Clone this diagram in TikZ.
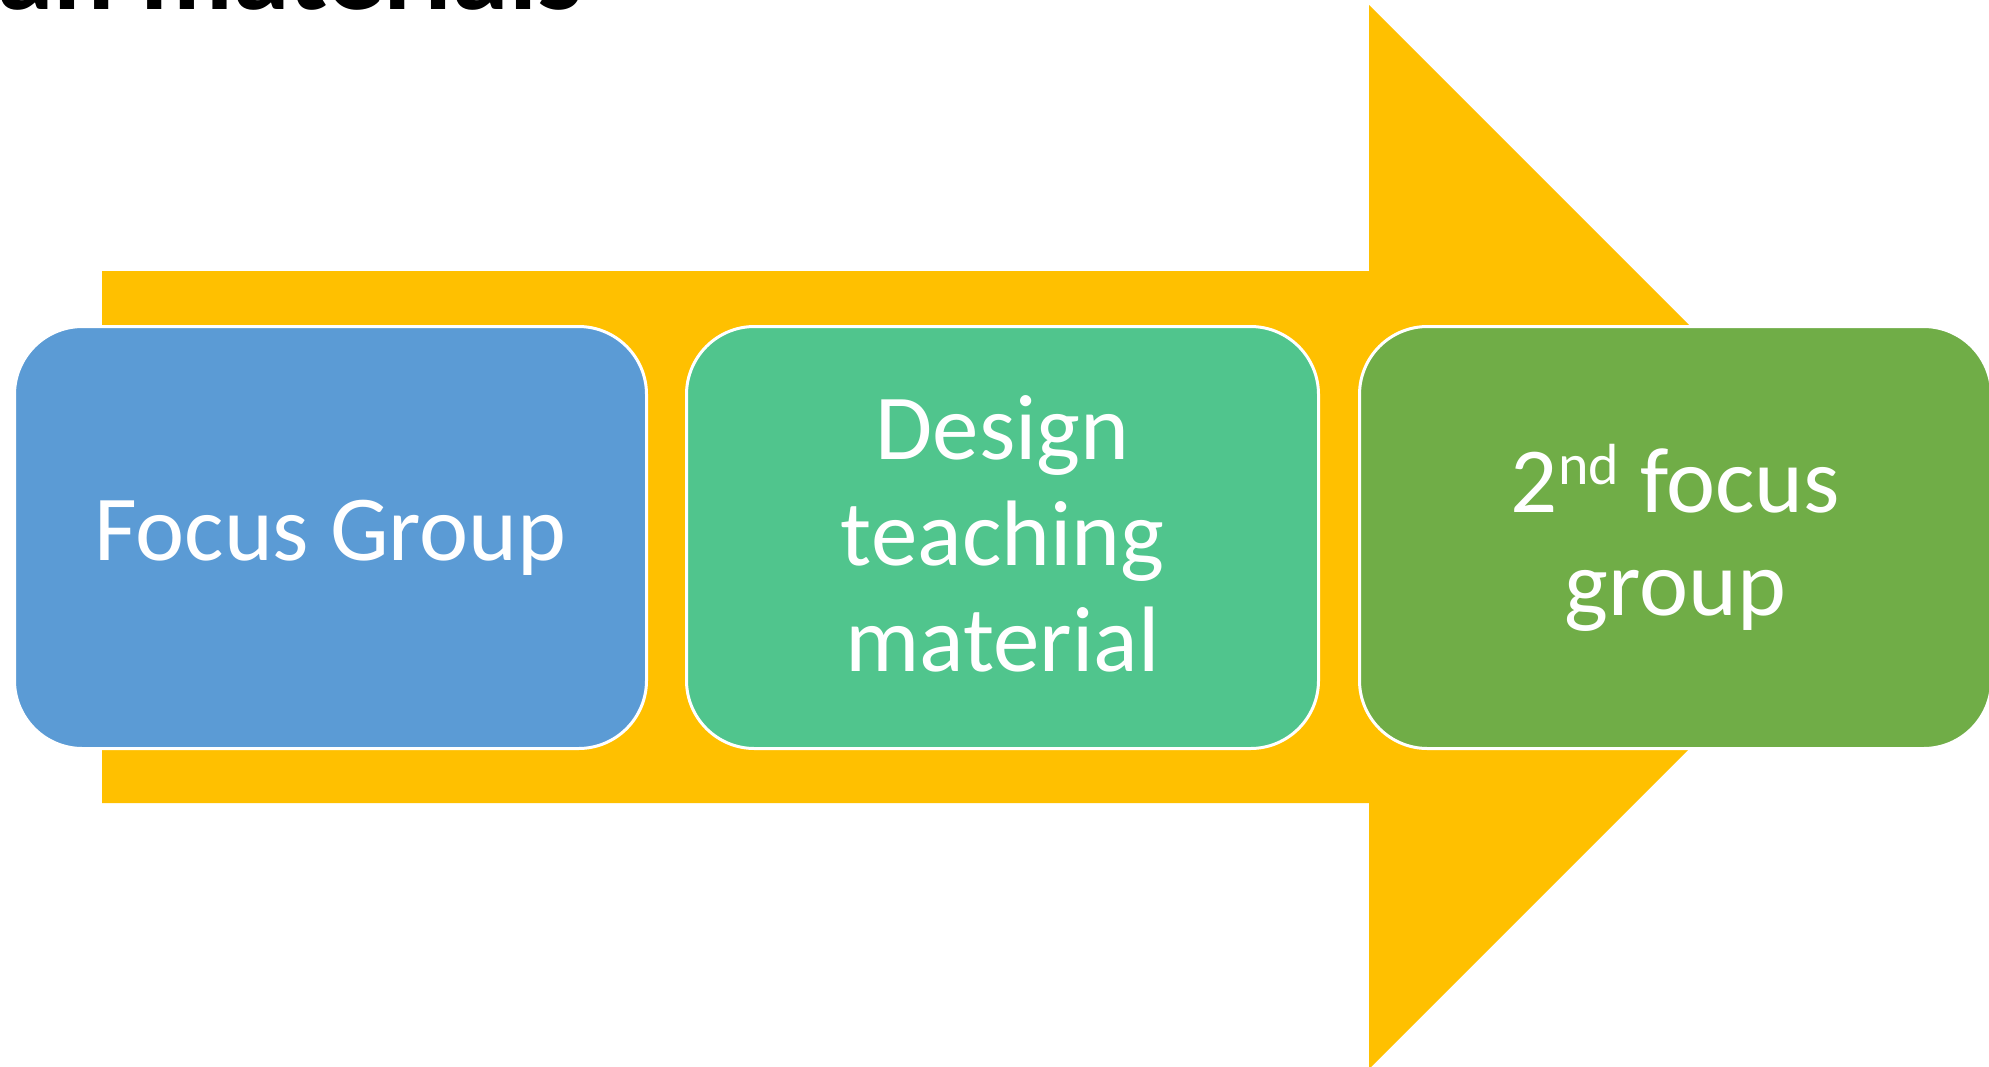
\documentclass[tikz,border=0pt]{standalone}
\usepackage{fontspec}
\setmainfont{Carlito}
\definecolor{arrowyellow}{HTML}{FFC000}
\definecolor{boxblue}{HTML}{5B9BD5}
\definecolor{boxteal}{HTML}{50C58D}
\definecolor{boxgreen}{HTML}{70AD47}
\begin{document}
\begin{tikzpicture}[x=0.5pt,y=-0.5pt,
  stagebox/.style={draw=white, line width=1.5pt, rounded corners=34pt,
    minimum width=316pt, minimum height=211pt, inner sep=0pt,
    align=center, text=white, anchor=center}]
\useasboundingbox (0,0) rectangle (1989,1066);
\clip (0,0) rectangle (1989,1066);
\fill[white] (0,0) rectangle (1989,1066);
\node[inner sep=0pt, anchor=base west, font=\fontsize{57}{57}\selectfont\bfseries] (title) at (-3,9) {an materials};
\fill[arrowyellow] (102,271) -- (1369,271) -- (1369,5) -- (1901,537) -- (1369,1069) -- (1369,803) -- (102,803) -- cycle;
\node[stagebox, fill=boxblue, font=\fontsize{46.5}{51.5}\selectfont] (s1) at (330.5,537.5) {Focus Group};
\node[stagebox, fill=boxteal, font=\fontsize{46.5}{53}\selectfont] (s2) at (1002.5,537.5) {Design\\teaching\\material\rule[-4.5pt]{0pt}{4.5pt}};
\node[stagebox, fill=boxgreen, font=\fontsize{46.5}{51.5}\selectfont] (s3) at (1675.5,537.5) {2\raisebox{14pt}{\fontsize{29}{29}\selectfont nd} focus\\group};
\end{tikzpicture}
\end{document}
